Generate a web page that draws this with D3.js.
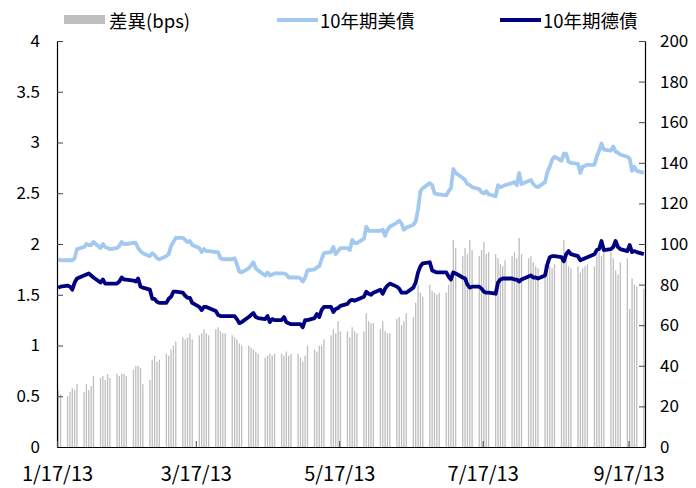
<!DOCTYPE html>
<html>
<head>
<meta charset="utf-8">
<script src="https://cdn.jsdelivr.net/npm/d3@7"></script>
<style>
  body { margin: 0; background: #fff; }
  svg text { font-family: "Noto Sans CJK TC", "Noto Sans", sans-serif; fill: #000; }
</style>
</head>
<body>
<svg id="chart"></svg>
<script>
// business days from firstDay to lastDay (weekends skipped)
const firstDay = "2013-01-17", lastDay = "2013-09-23";

// 10年期美債 (%), one value per business day, week by week
const us10y = [
  1.85, 1.84,
  1.84, 1.84, 1.84, 1.86, 1.95,
  1.97, 2.00, 1.99, 1.99, 2.02,
  1.96, 2.00, 1.97, 1.96, 1.95,
  1.96, 1.98, 2.02, 2.00, 2.00,
  2.01, 2.01, 1.96, 1.93, 1.91,
  1.88, 1.91, 1.89, 1.86, 1.85,
  1.88, 1.90, 1.98, 2.02, 2.06,
  2.06, 2.04, 2.02, 2.03, 1.99,
  1.96, 1.92, 1.95, 1.93, 1.93,
  1.92, 1.92, 1.86, 1.85, 1.85,
  1.85, 1.86, 1.80, 1.73, 1.72,
  1.76, 1.79, 1.82, 1.76, 1.74,
  1.69, 1.72, 1.69, 1.70, 1.71,
  1.71, 1.71, 1.70, 1.67, 1.67,
  1.67, 1.66, 1.63, 1.67, 1.74,
  1.75, 1.77, 1.78, 1.85, 1.91,
  1.92, 1.97, 1.90, 1.93, 1.96,
  1.96, 1.94, 2.04, 2.01, 2.01,
  2.05, 2.17, 2.13, 2.13, 2.13,
  2.13, 2.14, 2.08, 2.14, 2.17,
  2.21, 2.23, 2.20, 2.14, 2.16,
  2.19, 2.22, 2.34, 2.52, 2.55,
  2.60, 2.58, 2.50, 2.49, 2.49,
  2.48, 2.52, 2.55, 2.74, 2.70,
  2.65, 2.63, 2.59, 2.58, 2.56,
  2.54, 2.51, 2.50, 2.52, 2.49,
  2.47, 2.58, 2.56, 2.57, 2.58,
  2.60, 2.61, 2.58, 2.70, 2.59,
  2.62, 2.63, 2.59, 2.57, 2.56,
  2.61, 2.71, 2.76, 2.83, 2.86,
  2.82, 2.89, 2.89, 2.81, 2.80,
  2.79, 2.70, 2.76, 2.77, 2.78,
  2.78, 2.86, 2.92, 2.99, 2.93,
  2.92, 2.96, 2.91, 2.90, 2.88,
  2.86, 2.84, 2.72, 2.76, 2.72,
  2.70
];

// 10年期德債 (%)
const bund10y = [
  1.57, 1.58,
  1.59, 1.58, 1.55, 1.62, 1.66,
  1.69, 1.70, 1.71, 1.69, 1.67,
  1.62, 1.65, 1.61, 1.61, 1.61,
  1.61, 1.63, 1.67, 1.65, 1.65,
  1.64, 1.63, 1.66, 1.58, 1.57,
  1.55, 1.46, 1.46, 1.43, 1.42,
  1.42, 1.46, 1.48, 1.53, 1.53,
  1.52, 1.49, 1.47, 1.47, 1.42,
  1.38, 1.35, 1.38, 1.38, 1.37,
  1.34, 1.30, 1.29, 1.29, 1.29,
  1.29, 1.29, 1.26, 1.22, 1.23,
  1.28, 1.30, 1.32, 1.28, 1.27,
  1.26, 1.29, 1.23, 1.26, 1.25,
  1.25, 1.28, 1.23, 1.22, 1.21,
  1.21, 1.21, 1.18, 1.25, 1.25,
  1.27, 1.31, 1.28, 1.35, 1.38,
  1.38, 1.33, 1.36, 1.37, 1.39,
  1.41, 1.44, 1.45, 1.44, 1.45,
  1.48, 1.53, 1.51, 1.50, 1.52,
  1.55, 1.51, 1.56, 1.59, 1.61,
  1.58, 1.56, 1.52, 1.52, 1.52,
  1.57, 1.62, 1.72, 1.78, 1.81,
  1.82, 1.74, 1.73, 1.72, 1.72,
  1.72, 1.68, 1.65, 1.72, 1.71,
  1.67, 1.66, 1.60, 1.57, 1.58,
  1.58, 1.56, 1.53, 1.52, 1.52,
  1.51, 1.62, 1.65, 1.66, 1.66,
  1.66, 1.65, 1.65, 1.63, 1.65,
  1.68, 1.69, 1.67, 1.67, 1.66,
  1.69, 1.80, 1.87, 1.88, 1.88,
  1.87, 1.83, 1.90, 1.93, 1.90,
  1.88, 1.84, 1.85, 1.86, 1.87,
  1.90, 1.94, 1.95, 2.03, 1.94,
  1.95, 1.97, 2.03, 1.97, 1.95,
  1.93, 1.99, 1.92, 1.93, 1.92,
  1.90
];

// 差異 (bps), right axis
const spreadBps = [
  28, 26,
  25, 27, 29, 28, 31,
  27, 31, 28, 30, 35,
  34, 35, 33, 36, 34,
  36, 35, 36, 36, 35,
  38, 40, 40, 39, 31,
  33, 43, 45, 42, 43,
  46, 45, 48, 50, 52,
  54, 53, 54, 56, 53,
  55, 56, 58, 56, 55,
  58, 59, 57, 56, 56,
  55, 54, 53, 51, 50,
  50, 49, 48, 47, 46,
  44, 45, 46, 45, 46,
  46, 45, 47, 45, 46,
  46, 44, 42, 45, 50,
  48, 47, 50, 50, 53,
  55, 58, 56, 62, 57,
  57, 54, 59, 57, 56,
  57, 66, 62, 61, 61,
  58, 62, 57, 56, 56,
  63, 64, 60, 62, 66,
  64, 71, 80, 76, 74,
  80, 77, 76, 75, 76,
  76, 80, 86, 102, 98,
  94, 98, 95, 102, 97,
  94, 97, 101, 95, 96,
  95, 93, 90, 89, 92,
  94, 96, 93, 103, 95,
  93, 94, 91, 89, 88,
  90, 92, 89, 88, 90,
  92, 102, 95, 89, 88,
  89, 86, 88, 89, 90,
  89, 97, 96, 94, 98,
  96, 93, 87, 85, 91,
  93, 68, 83, 80, 79,
  78
];

const tickDates = ["2013-01-17", "2013-03-17", "2013-05-17", "2013-07-17", "2013-09-17"];
const tickLabels = ["1/17/13", "3/17/13", "5/17/13", "7/17/13", "9/17/13"];
const leftTicks = [0, 0.5, 1, 1.5, 2, 2.5, 3, 3.5, 4];
const rightTicks = [0, 20, 40, 60, 80, 100, 120, 140, 160, 180, 200];
const legendNames = ["差異(bps)", "10年期美債", "10年期德債"];

const W = 696, H = 488;
const plot = { left: 57, right: 645, top: 41, bottom: 447 };
const colBar = "#bfbfbf", colUS = "#a3c9f0", colDE = "#000080";

const parse = d3.utcParse("%Y-%m-%d");
const start = parse(firstDay), end = d3.utcDay.offset(parse(lastDay), 1);
const days = d3.utcDay.range(start, end).filter(d => d.getUTCDay() !== 0 && d.getUTCDay() !== 6);
const data = days.map((d, i) => ({ date: d, us: us10y[i], de: bund10y[i], spread: spreadBps[i] }));

const svg = d3.select("#chart").attr("width", W).attr("height", H);

const x = d3.scaleUtc().domain([start, end]).range([plot.left, plot.right]);
const yL = d3.scaleLinear().domain([0, 4]).range([plot.bottom, plot.top]);
const yR = d3.scaleLinear().domain([0, 200]).range([plot.bottom, plot.top]);
const dayW = x(d3.utcDay.offset(start, 1)) - x(start);
const cx = d => x(d.date) + dayW / 2;

// bars
svg.append("g").selectAll("rect")
  .data(data)
  .enter().append("rect")
  .attr("x", d => cx(d) - dayW * 0.28)
  .attr("width", dayW * 0.56)
  .attr("y", d => yR(d.spread))
  .attr("height", d => plot.bottom - yR(d.spread))
  .attr("fill", colBar);

// lines
const lineUS = d3.line().x(cx).y(d => yL(d.us));
const lineDE = d3.line().x(cx).y(d => yL(d.de));
svg.append("path").datum(data).attr("d", lineUS)
  .attr("fill", "none").attr("stroke", colUS).attr("stroke-width", 3.8).attr("stroke-linejoin", "round");
svg.append("path").datum(data).attr("d", lineDE)
  .attr("fill", "none").attr("stroke", colDE).attr("stroke-width", 3.8).attr("stroke-linejoin", "round");

// axes
const gl = svg.append("g").attr("transform", "translate(" + plot.left + ",0)")
  .call(d3.axisLeft(yL).tickValues(leftTicks).tickFormat(d => d)
    .tickSizeInner(-6).tickSizeOuter(0).tickPadding(17));
const gr = svg.append("g").attr("transform", "translate(" + plot.right + ",0)")
  .call(d3.axisRight(yR).tickValues(rightTicks).tickFormat(d => d)
    .tickSizeInner(-6).tickSizeOuter(0).tickPadding(15));
const gb = svg.append("g").attr("transform", "translate(0," + plot.bottom + ")")
  .call(d3.axisBottom(x).tickValues(tickDates.map(parse))
    .tickFormat((d, i) => tickLabels[i])
    .tickSizeInner(-6).tickSizeOuter(0).tickPadding(20));

[gl, gr].forEach(g => g.selectAll("text").style("font-size", "17px"));
gb.selectAll("text").style("font-size", "20px");
[gl, gr, gb].forEach(g => {
  g.select(".domain").attr("stroke", "#000").attr("stroke-width", 1.2);
  g.selectAll(".tick line").attr("stroke", "#444");
});

// legend
const lg = svg.append("g").style("font-size", "18.5px");
lg.append("rect").attr("x", 64).attr("y", 15).attr("width", 41).attr("height", 9).attr("fill", colBar);
lg.append("text").attr("x", 109).attr("y", 20).attr("dominant-baseline", "central").text(legendNames[0]);
lg.append("line").attr("x1", 277).attr("x2", 318).attr("y1", 20).attr("y2", 20)
  .attr("stroke", colUS).attr("stroke-width", 3.8);
lg.append("text").attr("x", 320).attr("y", 20).attr("dominant-baseline", "central").text(legendNames[1]);
lg.append("line").attr("x1", 500).attr("x2", 541).attr("y1", 20).attr("y2", 20)
  .attr("stroke", colDE).attr("stroke-width", 3.8);
lg.append("text").attr("x", 543).attr("y", 20).attr("dominant-baseline", "central").text(legendNames[2]);
</script>
</body>
</html>
